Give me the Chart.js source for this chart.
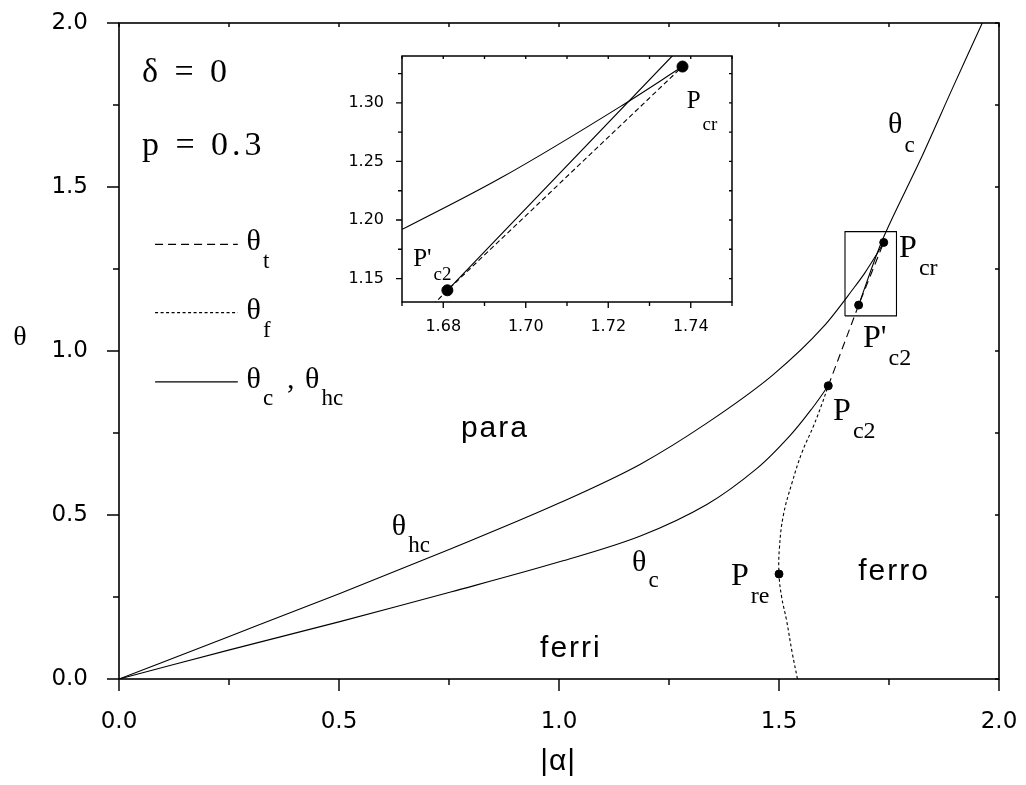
<!DOCTYPE html>
<html>
<head>
<meta charset="utf-8">
<script src="https://cdn.jsdelivr.net/npm/chart.js@4.4.1/dist/chart.umd.min.js"></script>
<style>
  body { margin: 0; background: #fff; }
  #wrap { position: relative; width: 1026px; height: 785px; }
  .box { position: absolute; }
</style>
</head>
<body>
<div id="wrap">
  <div class="box" style="left:0;top:0;width:1026px;height:785px"><canvas id="mainChart"></canvas></div>
  <div class="box" style="left:330px;top:40px;width:420px;height:300px"><canvas id="insetChart"></canvas></div>
</div>
<script>
// ---- data ----
const hcX = [0, 0.249, 0.502, 0.756, 1.003, 1.185, 1.336, 1.487, 1.601, 1.670, 1.694, 1.723, 1.738];
const hcY = [0, 0.129, 0.261, 0.398, 0.538, 0.655, 0.780, 0.928, 1.074, 1.192, 1.236, 1.297, 1.331];

const cLowX = [0, 0.249, 0.502, 0.756, 1.003, 1.185, 1.336, 1.450, 1.525, 1.578, 1.612];
const cLowY = [0, 0.088, 0.175, 0.266, 0.358, 0.436, 0.532, 0.642, 0.742, 0.830, 0.894];

const cUpX = [1.681, 1.7355, 1.821, 1.896, 1.962];
const cUpY = [1.140, 1.340, 1.582, 1.806, 2.000];

const fX = [1.542, 1.530, 1.517, 1.506, 1.500, 1.501, 1.510, 1.530, 1.552, 1.578, 1.598, 1.612];
const fY = [0, 0.080, 0.180, 0.250, 0.320, 0.400, 0.500, 0.600, 0.690, 0.770, 0.840, 0.894];

const tX = [1.612, 1.681, 1.738];
const tY = [0.894, 1.140, 1.331];

const ptNames = ['Pcr', "P'c2", 'Pc2', 'Pre'];
const ptX = [1.738, 1.681, 1.612, 1.500];
const ptY = [1.331, 1.140, 0.894, 0.320];

const boxX = [1.650, 1.767];
const boxY = [1.107, 1.364];

const mainTicksX = [0, 0.5, 1.0, 1.5, 2.0];
const mainTicksY = [0, 0.5, 1.0, 1.5, 2.0];
const mainMinorX = [0.25, 0.75, 1.25, 1.75];
const mainMinorY = [0.25, 0.75, 1.25, 1.75];
const insetTicksX = [1.68, 1.70, 1.72, 1.74];
const insetTicksY = [1.15, 1.20, 1.25, 1.30];
const insetMinorX = [1.67, 1.69, 1.71, 1.73, 1.75];
const insetMinorY = [1.175, 1.225, 1.275, 1.325];

const SANS = "'Liberation Sans', Arial, sans-serif";
const TICKS = "'DejaVu Sans', 'Liberation Sans', sans-serif";
const SERIF = "'Liberation Serif', 'Times New Roman', serif";

const pts = (xs, ys) => xs.map((x, i) => ({ x, y: ys[i] }));

function curve(xs, ys, dash, mode, tension) {
  return {
    data: pts(xs, ys), showLine: true, borderColor: '#000', borderWidth: 1.1,
    borderDash: dash || [], pointRadius: 0, tension: tension || 0,
    cubicInterpolationMode: mode || 'default', fill: false
  };
}

// frame with tick marks on all four sides
const frameTicks = {
  id: 'frameTicks',
  afterDraw(chart, args, o) {
    const { ctx, chartArea: a, scales: { x, y } } = chart;
    ctx.save();
    ctx.strokeStyle = '#000';
    ctx.lineWidth = o.lw;
    ctx.strokeRect(a.left, a.top, a.right - a.left, a.bottom - a.top);
    ctx.lineWidth = o.lw * 0.9;
    ctx.beginPath();
    const doX = (vals, out) => vals.forEach(v => {
      const px = x.getPixelForValue(v);
      ctx.moveTo(px, a.bottom); ctx.lineTo(px, a.bottom + out);
      ctx.moveTo(px, a.top); ctx.lineTo(px, a.top + o.inLen);
    });
    const doY = (vals, out) => vals.forEach(v => {
      const py = y.getPixelForValue(v);
      ctx.moveTo(a.left, py); ctx.lineTo(a.left - out, py);
      ctx.moveTo(a.right, py); ctx.lineTo(a.right - o.inLen, py);
    });
    doX(o.xMajor, o.outMajor); doX(o.xMinor, o.outMinor);
    doY(o.yMajor, o.outMajor); doY(o.yMinor, o.outMinor);
    ctx.stroke();
    ctx.restore();
  }
};

// free text (with optional subscript) placed in data coordinates
const notes = {
  id: 'notes',
  afterDraw(chart, args, o) {
    const { ctx, scales: { x, y } } = chart;
    ctx.save();
    ctx.fillStyle = '#000';
    ctx.strokeStyle = '#000';
    (o.lines || []).forEach(l => {
      ctx.lineWidth = 1.1;
      ctx.setLineDash(l.dash);
      ctx.beginPath();
      ctx.moveTo(x.getPixelForValue(l.x0), y.getPixelForValue(l.y));
      ctx.lineTo(x.getPixelForValue(l.x1), y.getPixelForValue(l.y));
      ctx.stroke();
    });
    ctx.setLineDash([]);
    (o.items || []).forEach(n => {
      const px = x.getPixelForValue(n.x), py = y.getPixelForValue(n.y);
      ctx.letterSpacing = (n.ls || 0) + 'px';
      ctx.textAlign = n.align || 'left';
      ctx.textBaseline = n.base || 'alphabetic';
      ctx.font = n.font;
      ctx.fillText(n.t, px, py);
      if (n.sub) {
        const w = ctx.measureText(n.t).width;
        ctx.font = n.subFont;
        ctx.fillText(n.sub, px + w + 2, py + n.dy);
      }
    });
    ctx.restore();
  }
};

function fixedTicks(list) {
  return scale => { scale.ticks = list.map(v => ({ value: v })); };
}
function fitX(h) {
  return s => { s.height = h; s.paddingLeft = 0; s.paddingRight = 0; };
}
function fitY(w) {
  return s => { s.width = w; s.paddingTop = 0; s.paddingBottom = 0; };
}

const mainSub = (t, sub, x, y, dy) => ({ t, sub, x, y, dy: dy || 17,
  font: `30px ${SERIF}`, subFont: `23px ${SERIF}` });
const pSub = (t, sub, x, y) => ({ t, sub, x, y, dy: 18,
  font: `32px ${SERIF}`, subFont: `24px ${SERIF}` });

new Chart(document.getElementById('mainChart'), {
  type: 'scatter',
  data: {
    datasets: [
      curve(hcX, hcY, null, 'monotone'),
      curve(cLowX, cLowY, null, 'default', 0.35),
      curve(cUpX, cUpY, null, 'default', 0.3),
      curve(fX, fY, [3, 2.5], 'default', 0.4),
      curve(tX, tY, [8, 5]),
      curve([boxX[0], boxX[1], boxX[1], boxX[0], boxX[0]],
            [boxY[0], boxY[0], boxY[1], boxY[1], boxY[0]]),
      { data: pts(ptX, ptY), pointRadius: 4, pointBackgroundColor: '#000',
        pointBorderColor: '#000', showLine: false }
    ]
  },
  options: {
    responsive: true, maintainAspectRatio: false, animation: false,
    layout: { padding: { left: 0, top: 23, right: 27, bottom: 0 } },
    plugins: {
      legend: { display: false }, tooltip: { enabled: false },
      frameTicks: {
        lw: 1.6, inLen: 4, outMajor: 12, outMinor: 6,
        xMajor: mainTicksX, xMinor: mainMinorX, yMajor: mainTicksY, yMinor: mainMinorY
      },
      notes: {
        lines: [
          { x0: 0.082, x1: 0.270, y: 1.325, dash: [8, 5] },
          { x0: 0.082, x1: 0.270, y: 1.117, dash: [3, 2.5] },
          { x0: 0.082, x1: 0.270, y: 0.906, dash: [] }
        ],
        items: [
          { t: 'δ = 0', x: 0.052, y: 1.820, font: `34px ${SERIF}`, ls: 4 },
          { t: 'p = 0.3', x: 0.052, y: 1.598, font: `34px ${SERIF}`, ls: 4 },
          { t: 'para', x: 0.777, y: 0.738, font: `30px ${SANS}`, ls: 2 },
          { t: 'ferro', x: 1.680, y: 0.302, font: `30px ${SANS}`, ls: 2 },
          { t: 'ferri', x: 0.957, y: 0.067, font: `30px ${SANS}`, ls: 2 },
          mainSub('θ', 't', 0.290, 1.308, 18),
          mainSub('θ', 'f', 0.290, 1.098, 18),
          mainSub('θ', 'c', 0.290, 0.887, 17),
          { t: ',', x: 0.382, y: 0.887, font: `30px ${SERIF}` },
          mainSub('θ', 'hc', 0.423, 0.887, 17),
          mainSub('θ', 'hc', 0.620, 0.439, 17),
          mainSub('θ', 'c', 1.166, 0.329, 16),
          mainSub('θ', 'c', 1.748, 1.665, 19),
          pSub('P', 're', 1.391, 0.287),
          pSub('P', 'c2', 1.623, 0.790),
          pSub("P'", 'c2', 1.691, 1.012),
          pSub('P', 'cr', 1.773, 1.287),
          { t: 'θ', x: -0.225, y: 1.040, font: `28px ${SERIF}`, align: 'center', base: 'middle' },
          { t: '|α|', x: 0.998, y: -0.253, font: `30px ${SANS}`, align: 'center', base: 'middle', ls: 1 }
        ]
      }
    },
    scales: {
      x: {
        type: 'linear', min: 0, max: 2,
        afterBuildTicks: fixedTicks(mainTicksX),
        afterFit: fitX(106),
        grid: { display: false }, border: { display: false },
        ticks: { color: '#000', padding: 21, font: { family: TICKS, size: 23 },
                 callback: v => v.toFixed(1) }
      },
      y: {
        type: 'linear', min: 0, max: 2,
        afterBuildTicks: fixedTicks(mainTicksY),
        afterFit: fitY(119),
        grid: { display: false }, border: { display: false },
        ticks: { color: '#000', padding: 23, font: { family: TICKS, size: 23 },
                 callback: v => v.toFixed(1) }
      }
    }
  },
  plugins: [frameTicks, notes]
});

new Chart(document.getElementById('insetChart'), {
  type: 'scatter',
  data: {
    datasets: [
      curve(hcX, hcY, null, 'monotone'),
      curve(cUpX, cUpY),
      curve(tX, tY, [5, 3]),
      { data: pts(ptX.slice(0, 2), ptY.slice(0, 2)), pointRadius: 5.5,
        pointBackgroundColor: '#000', pointBorderColor: '#000', showLine: false }
    ]
  },
  options: {
    responsive: true, maintainAspectRatio: false, animation: false,
    layout: { padding: { left: 0, top: 16, right: 18, bottom: 0 } },
    plugins: {
      legend: { display: false }, tooltip: { enabled: false },
      frameTicks: {
        lw: 1.5, inLen: 3, outMajor: 6, outMinor: 4,
        xMajor: insetTicksX, xMinor: insetMinorX, yMajor: insetTicksY, yMinor: insetMinorY
      },
      notes: {
        items: [
          { t: 'P', sub: 'cr', x: 1.739, y: 1.2955, dy: 21.7,
            font: `25px ${SERIF}`, subFont: `19px ${SERIF}` },
          { t: "P'", sub: 'c2', x: 1.6727, y: 1.1605, dy: 13.3,
            font: `25px ${SERIF}`, subFont: `19px ${SERIF}` }
        ]
      }
    },
    scales: {
      x: {
        type: 'linear', min: 1.67, max: 1.75,
        afterBuildTicks: fixedTicks(insetTicksX),
        afterFit: fitX(38),
        grid: { display: false }, border: { display: false },
        ticks: { color: '#000', padding: 7, font: { family: TICKS, size: 16 },
                 callback: v => v.toFixed(2) }
      },
      y: {
        type: 'linear', min: 1.13, max: 1.34,
        afterBuildTicks: fixedTicks(insetTicksY),
        afterFit: fitY(72),
        grid: { display: false }, border: { display: false },
        ticks: { color: '#000', padding: 10, font: { family: TICKS, size: 16 },
                 callback: v => v.toFixed(2) }
      }
    }
  },
  plugins: [frameTicks, notes]
});
</script>
</body>
</html>
